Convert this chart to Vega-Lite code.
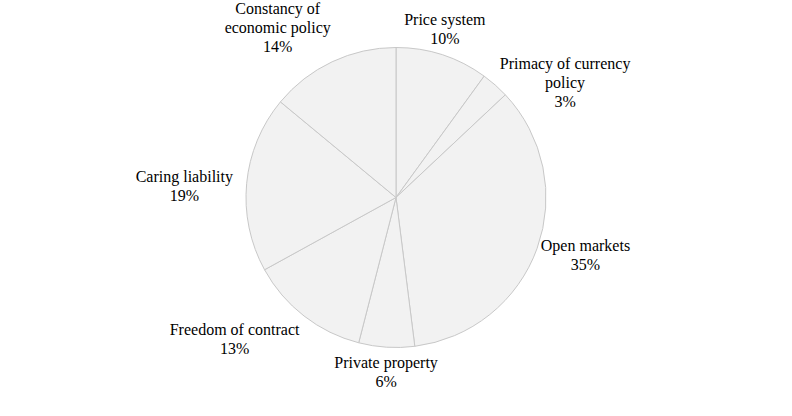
{
  "$schema": "https://vega.github.io/schema/vega-lite/v6.json",
  "width": 792,
  "height": 395,
  "autosize": "none",
  "padding": 0,
  "background": "white",
  "data": {
    "values": [
      {"name": "Price system", "value": 10},
      {"name": "Primacy of currency\npolicy", "value": 3},
      {"name": "Open markets", "value": 35},
      {"name": "Private property", "value": 6},
      {"name": "Freedom of contract", "value": 13},
      {"name": "Caring liability", "value": 19},
      {"name": "Constancy of\neconomic policy", "value": 14}
    ]
  },
  "transform": [
    {"window": [{"op": "row_number", "as": "idx"}]},
    {"calculate": "datum.name + '\\n' + datum.value + '%'", "as": "label"}
  ],
  "encoding": {
    "theta": {"field": "value", "type": "quantitative", "stack": true},
    "order": {"field": "idx", "type": "quantitative"}
  },
  "layer": [
    {
      "mark": {
        "type": "arc",
        "outerRadius": 150,
        "fill": "#f2f2f2",
        "stroke": "#c8c8c8",
        "strokeWidth": 1
      }
    },
    {
      "mark": {
        "type": "text",
        "radius": 158,
        "font": "Liberation Serif",
        "fontSize": 16,
        "lineHeight": 19,
        "lineBreak": "\n",
        "color": "#000000",
        "align": "center",
        "dx": {"expr": "(sin(scale('theta', (datum.value_start + datum.value_end) / 2)) > 0.35 ? 1 : sin(scale('theta', (datum.value_start + datum.value_end) / 2)) < -0.35 ? -1 : 0) * 3.4 * max(length(split(datum.label, '\\n')[0]), length(split(datum.label, '\\n')[1]))"},
        "dy": {"expr": "cos(scale('theta', (datum.value_start + datum.value_end) / 2)) > 0.8 ? -19 * (length(split(datum.label, '\\n')) - 1) : cos(scale('theta', (datum.value_start + datum.value_end) / 2)) < -0.35 ? 0 : 4 - 9.5 * (length(split(datum.label, '\\n')) - 1)"},
        "baseline": {"expr": "cos(scale('theta', (datum.value_start + datum.value_end) / 2)) > 0.8 ? 'bottom' : cos(scale('theta', (datum.value_start + datum.value_end) / 2)) < -0.35 ? 'top' : 'middle'"}
      },
      "encoding": {
        "text": {"field": "label", "type": "nominal"}
      }
    }
  ],
  "config": {"view": {"stroke": null}}
}
